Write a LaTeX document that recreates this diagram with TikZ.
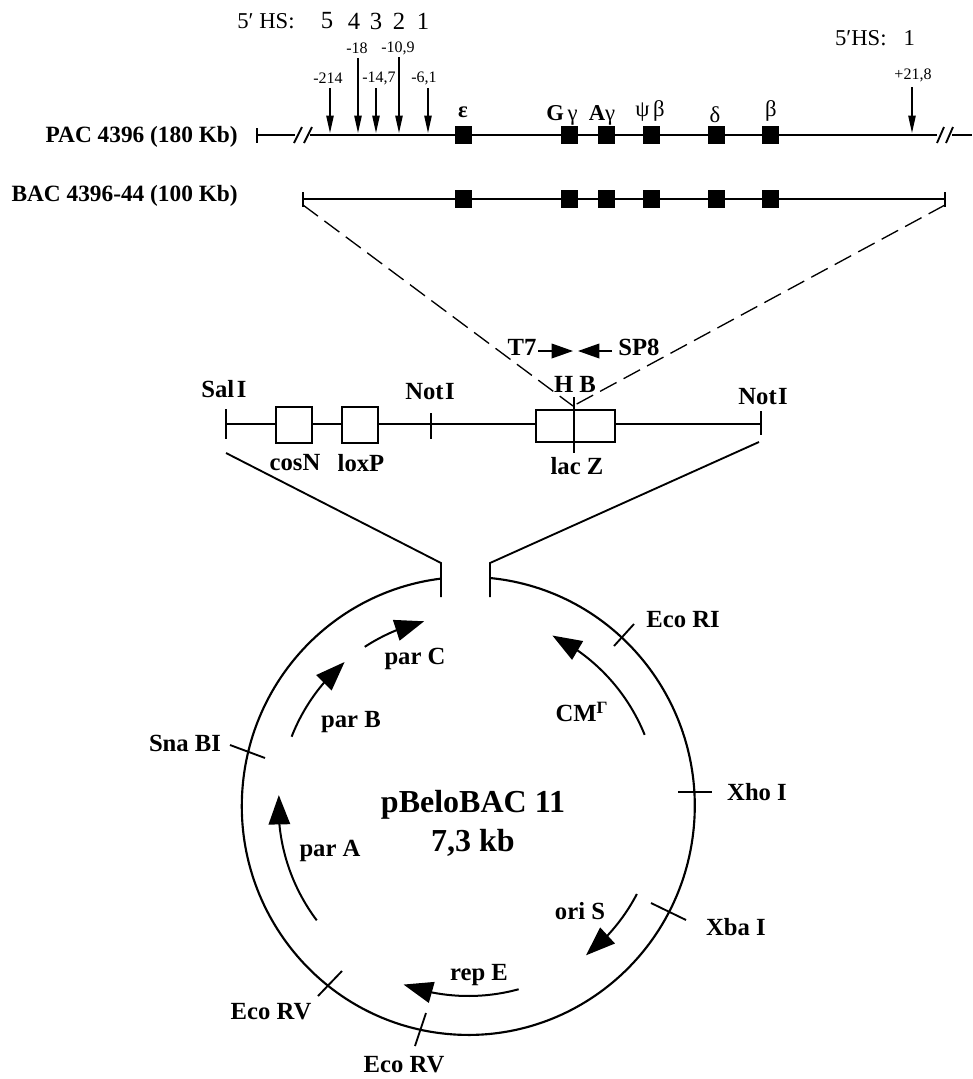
\documentclass[tikz,border=0pt]{standalone}
\usepackage{fontspec}
\setmainfont{Liberation Serif}
\usetikzlibrary{arrows.meta, bending, calc}
\tikzset{
  dnaline/.style    = {line width=1.8pt, black},
  thinline/.style   = {line width=1.4pt, black},
  hsarrow/.style    = {-{Triangle[length=13pt,width=5.5pt]}, line width=1pt},
  primer/.style     = {-{Triangle[length=16pt,width=11pt]}, line width=1.1pt},
  genearrow/.style  = {-{Triangle[length=22pt,width=16pt,flex]}, line width=1.5pt},
  genebox/.style    = {rectangle, fill=black, minimum width=12.75pt, minimum height=13.5pt, inner sep=0pt},
  openbox/.style    = {draw=black, line width=1.4pt, fill=white, inner sep=0pt},
  hslbl/.style      = {font=\fontsize{17}{19}\selectfont, inner sep=0pt},
  hsnum/.style      = {font=\fontsize{18.5}{20}\selectfont, inner sep=0pt},
  kblbl/.style      = {font=\fontsize{12}{14}\selectfont, inner sep=0pt},
  glbl/.style       = {font=\fontsize{17}{19}\selectfont, inner sep=0pt},
  lbl/.style        = {font=\fontsize{18.5}{21}\selectfont\bfseries, inner sep=0pt},
  clonelbl/.style   = {font=\fontsize{17.5}{20}\selectfont\bfseries, inner sep=0pt, anchor=east},
  titlelbl/.style   = {font=\fontsize{24}{28}\selectfont\bfseries, inner sep=0pt},
}
\begin{document}
\begin{tikzpicture}[x=0.75pt,y=-0.75pt]
  \useasboundingbox (0,0) rectangle (972,1079);

  % top clone
  \node[clonelbl] (pac) at (238,137) {PAC 4396 (180 Kb)};
  \node[clonelbl] (bac) at (238,196) {BAC 4396-44 (100 Kb)};
  \node[hslbl] (hsA) at (266,21) {5′ HS:};
  \node[hslbl] (hsB) at (875,38) {5′HS:\ \ \ 1};
  \foreach \x/\n in {327/5, 354/4, 376/3, 399/2, 423/1}
    \node[hsnum] (hs\n) at (\x,21) {\n};
  \foreach \x/\y/\t in {357/48/-18, 398/48/{-10,9}, 328/78/-214, 379/78/{-14,7}, 424/78/{-6,1}, 913/75/{+21,8}}
    \node[kblbl] (kb\x) at (\x,\y) {\t};

  \draw[dnaline] (257,128) -- (257,143);
  \draw[dnaline] (257,135) -- (295,135);
  \draw[thinline] (294,143) -- (302,127) (304,143) -- (312,127);
  \draw[dnaline] (310,135) -- (937,135);
  \draw[thinline] (937,143) -- (944,127) (946,143) -- (953,127);
  \draw[dnaline] (952,135) -- (972,135);
  \foreach \x/\y in {330/88, 358/58, 376/88, 399/57, 428/88, 912/87}
    \draw[hsarrow] (\x,\y) -- (\x,133);

  \draw[dnaline] (303,192) -- (303,207);
  \draw[dnaline] (945,192) -- (945,207);
  \draw[dnaline] (303,199) -- (945,199);
  \foreach \x/\n in {463/e, 569/G, 606/A, 651/P, 716/d, 770/b} {
    \node[genebox] (pac\n) at (\x,135) {};
    \node[genebox] (bac\n) at (\x,199) {};
  }
  \node[glbl, font=\fontsize{17}{19}\selectfont\bfseries] (gE) at (463,112) {ε};
  \node[glbl] (gG) at (562,115) {\textbf{G}\,γ};
  \node[glbl] (gA) at (602,115) {\textbf{A}γ};
  \node[glbl] (gP) at (650,111) {ψ\,β};
  \node[glbl] (gD) at (715,115) {δ};
  \node[glbl] (gB) at (771,111) {β};

  \coordinate (bacL) at (303,205);
  \coordinate (bacR) at (945,205);
  \coordinate (site) at (573,406);
  \draw[dash pattern=on 14pt off 6pt, line width=1pt] (bacL) -- (site);
  \draw[dash pattern=on 14pt off 6pt, line width=1pt] (bacR) -- (site);

  % primers
  \node[lbl] (t7) at (522,347) {T7};
  \node[lbl] (sp8) at (639,347) {SP8};
  \coordinate (t7tip) at (573,351);
  \coordinate (sp8tip) at (578,351);
  \draw[primer] (538,351) -- (t7tip);
  \draw[primer] (612,351) -- (sp8tip);

  % vector insert
  \draw[thinline] (226,409) -- (226,439);
  \draw[thinline] (431,413) -- (431,439);
  \draw[thinline] (761,411) -- (761,435);
  \draw[thinline] (226,424) -- (761,424);
  \node[openbox, minimum width=27pt, minimum height=27pt] (cosbox) at (294,425) {};
  \node[openbox, minimum width=27pt, minimum height=27pt] (loxbox) at (360,425) {};
  \node[openbox, minimum width=59pt, minimum height=24pt] (lacbox) at (575.5,426) {};
  \draw[thinline] (574,397) -- (574,453);
  \node[lbl] (sal) at (224,389) {Sal\kern2pt I};
  \node[lbl] (not1) at (430,392) {Not\kern1pt I};
  \node[lbl] (hb) at (575,384) {H B};
  \node[lbl] (not2) at (763,397) {Not\kern1pt I};
  \node[lbl] (cos) at (295,463) {cosN};
  \node[lbl] (lox) at (361,463) {loxP};
  \node[lbl] (lac) at (577,466) {lac Z};

  % funnel to the plasmid
  \coordinate (gapL) at (441,563);
  \coordinate (gapR) at (490,563);
  \draw[thinline] (226,453) -- (gapL) -- ++(0,34);
  \draw[thinline] (759,442) -- (gapR) -- ++(0,34);

  % plasmid
  \coordinate (c) at (468.5,806);
  \draw[line width=1.6pt] (490,578) arc[start angle=-84.5, end angle=263, x radius=226.5, y radius=229];
  \foreach \s/\e in {-123.1/-103.5, -158.6/-130.7, 143/183.3, 74.7/110, 27.6/51.8, -22/-63.8}
    \draw[genearrow] ($(c)+(\s:190)$) arc[start angle=\s, end angle=\e, radius=190];

  % restriction sites
  \foreach \xa/\ya/\xb/\yb in {614/646/634/624, 678/792/712/792, 651/903/686/920, 342/971/318/996, 426/1013/415/1046, 230/745/265/758}
    \draw[thinline] (\xa,\ya) -- (\xb,\yb);
  \node[lbl] (ecoRI) at (683,620) {Eco RI};
  \node[lbl] (xho) at (757,792) {Xho I};
  \node[lbl] (xba) at (736,927) {Xba I};
  \node[lbl] (ecoA) at (271,1012) {Eco RV};
  \node[lbl] (ecoB) at (404,1065) {Eco RV};
  \node[lbl] (sna) at (185,743) {Sna BI};
  \node[lbl] (parC) at (415,659) {par C};
  \node[lbl] (parB) at (351,722) {par B};
  \node[lbl] (parA) at (330,851) {par A};
  \node[lbl] (cm) at (582,712) {CM\textsuperscript{Γ}};
  \node[lbl] (ori) at (580,911) {ori S};
  \node[lbl] (rep) at (479,975) {rep E};
  \node[titlelbl] (name) at (473,805) {pBeloBAC 11};
  \node[titlelbl] (size) at (473,843) {7,3 kb};
\end{tikzpicture}
\end{document}
